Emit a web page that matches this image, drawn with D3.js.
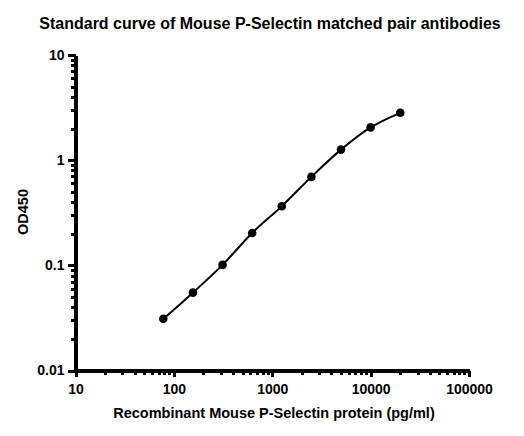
<!DOCTYPE html>
<html>
<head>
<meta charset="utf-8">
<script src="https://cdn.jsdelivr.net/npm/d3@7"></script>
<style>
  body { margin: 0; background: #fff; }
  text { font-family: "Liberation Sans", Arial, sans-serif; font-weight: bold; }
</style>
</head>
<body>
<script>
// standard curve readings (pg/ml vs OD450)
const concentrations = [78.125, 156.25, 312.5, 625, 1250, 2500, 5000, 10000, 20000];
const od450 = [0.031, 0.055, 0.101, 0.203, 0.365, 0.694, 1.26, 2.05, 2.82];
const xTickLabels = [10, 100, 1000, 10000, 100000];
const yTickLabels = [0.01, 0.1, 1, 10];

const width = 524, height = 436;

const x = d3.scaleLog().domain([10, 100000]).range([75.5, 469]);
const y = d3.scaleLog().domain([0.01, 10]).range([370.5, 55]);

const svg = d3.select("body").append("svg")
  .attr("width", width)
  .attr("height", height);

// minor tick values: 2..9 times each decade
const minor = (ticks) => {
  let out = [];
  for (let i = 0; i < ticks.length - 1; i++)
    for (let k = 2; k <= 9; k++) out.push(ticks[i] * k);
  return out;
};

const thicken = (g) => {
  g.selectAll("line")
    .attr("stroke", "#000")
    .attr("stroke-width", "3px")
    .attr("shape-rendering", "crispEdges");
  g.selectAll("path.domain")
    .attr("stroke", "#000")
    .attr("stroke-width", "3.5px")
    .attr("shape-rendering", "crispEdges");
  g.selectAll("text").attr("font-size", 14).attr("fill", "#000");
};

// x axis
const gx = svg.append("g").attr("transform", `translate(0,${y(0.01)})`);
gx.append("g")
  .call(d3.axisBottom(x).tickValues(minor(xTickLabels)).tickSize(4.5).tickFormat(""))
  .call((g) => g.select(".domain").remove());
gx.append("g")
  .call(d3.axisBottom(x).tickValues(xTickLabels).tickSize(6.5).tickSizeOuter(0).tickPadding(7)
    .tickFormat(d3.format("d")));
gx.call(thicken);

// y axis
const gy = svg.append("g").attr("transform", `translate(${x(10)},0)`);
gy.append("g")
  .call(d3.axisLeft(y).tickValues(minor(yTickLabels)).tickSize(5).tickFormat(""))
  .call((g) => g.select(".domain").remove());
gy.append("g")
  .call(d3.axisLeft(y).tickValues(yTickLabels).tickSize(8).tickSizeOuter(0).tickPadding(3)
    .tickFormat((d) => String(d)));
gy.call(thicken);

// fitted curve through the points
const pts = concentrations.map((c, i) => [c, od450[i]]);
const line = d3.line()
  .x((d) => x(d[0]))
  .y((d) => y(d[1]))
  .curve(d3.curveCatmullRom.alpha(0.5));

svg.append("path")
  .datum(pts)
  .attr("d", line)
  .attr("fill", "none")
  .attr("stroke", "#000")
  .attr("stroke-width", 2);

svg.append("g")
  .selectAll("circle")
  .data(pts)
  .join("circle")
  .attr("cx", (d) => x(d[0]))
  .attr("cy", (d) => y(d[1]))
  .attr("r", 4.3)
  .attr("fill", "#000");

// titles
svg.append("text")
  .attr("x", 270)
  .attr("y", 29)
  .attr("text-anchor", "middle")
  .attr("font-size", 16)
  .text("Standard curve of Mouse P-Selectin matched pair antibodies");

svg.append("text")
  .attr("x", 274)
  .attr("y", 418)
  .attr("text-anchor", "middle")
  .attr("font-size", 14.5)
  .text("Recombinant Mouse P-Selectin protein (pg/ml)");

svg.append("text")
  .attr("transform", "translate(28,212) rotate(-90)")
  .attr("text-anchor", "middle")
  .attr("font-size", 14.5)
  .text("OD450");
</script>
</body>
</html>
